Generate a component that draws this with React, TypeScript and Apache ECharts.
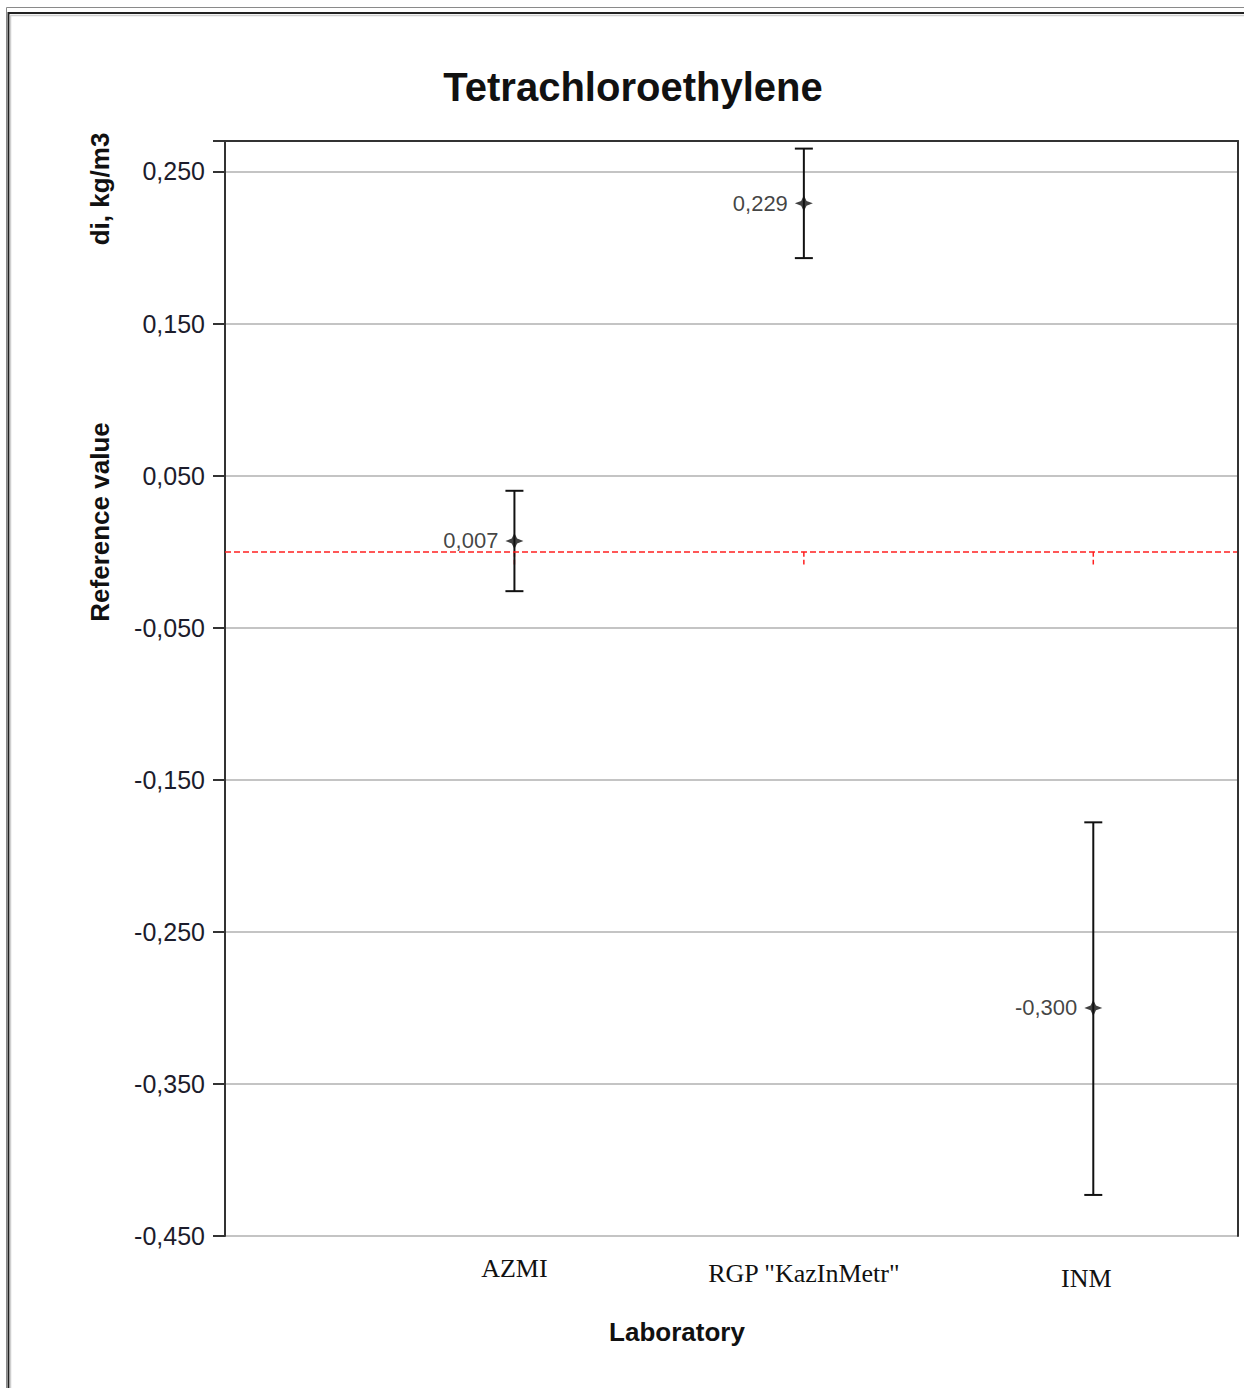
import React, { useEffect, useRef } from "react";
import * as echarts from "echarts";

// ---- data ----
const laboratories = ["AZMI", 'RGP "KazInMetr"', "INM"];
const labPositions = [1, 2, 3];
const diValues = [0.007, 0.229, -0.3];
const errLow = [-0.026, 0.193, -0.423];
const errHigh = [0.04, 0.265, -0.178];
const referenceValue = 0;
const referenceTickLow = [-0.0085, -0.0085, -0.0085];
const yMin = -0.45;
const yMax = 0.27;
const yStep = 0.1;
const xMin = 0;
const xMax = 3.5;

const SANS = "Liberation Sans, Arial, sans-serif";
const SERIF = "Liberation Serif, Times New Roman, serif";

const fmt = (v: number) => v.toFixed(3).replace(".", ",");

export default function App() {
  const ref = useRef<HTMLDivElement | null>(null);

  useEffect(() => {
    if (!ref.current) return;
    const chart = echarts.init(ref.current, undefined, { renderer: "svg" });

    const errData = labPositions.map((x, i) => [x, errLow[i], errHigh[i]]);
    const refTickData = labPositions.map((x, i) => [x, referenceValue, referenceTickLow[i]]);
    const pointData = labPositions.map((x, i) => [x, diValues[i]]);

    const option: any = {
      animation: false,
      backgroundColor: "#ffffff",
      title: {
        text: "Tetrachloroethylene",
        left: 628,
        top: 62,
        textAlign: "center",
        textStyle: { fontFamily: SANS, fontWeight: "bold", fontSize: 40, color: "#111" },
      },
      grid: { left: 225, right: 6, top: 141, bottom: 152, show: false },
      xAxis: [
        {
          type: "value",
          min: xMin,
          max: xMax,
          interval: 1,
          position: "bottom",
          axisLine: { show: false, onZero: false },
          axisTick: { show: false },
          splitLine: { show: false },
          axisLabel: {
            margin: 19,
            fontFamily: SERIF,
            fontSize: 26,
            color: "#111",
            formatter: (v: number) => {
              const i = labPositions.indexOf(v);
              return i < 0 ? "" : `{c${i}|${laboratories[i]}}`;
            },
            rich: {
              c0: { fontFamily: SERIF, fontSize: 26, color: "#111", lineHeight: 26 },
              c1: { fontFamily: SERIF, fontSize: 26, color: "#111", lineHeight: 36 },
              c2: { fontFamily: SERIF, fontSize: 26, color: "#111", lineHeight: 46, padding: [0, 14, 0, 0] },
            },
          },
        },
        {
          type: "value",
          min: xMin,
          max: xMax,
          position: "top",
          axisLine: { show: true, onZero: false, lineStyle: { color: "#333", width: 2 } },
          axisTick: { show: false },
          axisLabel: { show: false },
          splitLine: { show: false },
          z: 5,
        },
      ],
      yAxis: [
        {
          type: "value",
          min: yMin,
          max: yMax,
          interval: yStep,
          position: "left",
          axisLine: { show: true, onZero: false, lineStyle: { color: "#333", width: 2 } },
          axisTick: { show: true, length: 12, lineStyle: { color: "#333", width: 2 } },
          splitLine: { show: true, lineStyle: { color: "#c4c4c4", width: 2 } },
          axisLabel: {
            margin: 20,
            fontFamily: SANS,
            fontSize: 25,
            color: "#1c1c2c",
            formatter: (v: number) => (v > 0.26 ? "" : fmt(v)),
          },
        },
        {
          type: "value",
          min: yMin,
          max: yMax,
          position: "right",
          axisLine: { show: true, onZero: false, lineStyle: { color: "#333", width: 2 } },
          axisTick: { show: false },
          axisLabel: { show: false },
          splitLine: { show: false },
          z: 5,
        },
      ],
      graphic: [
        { type: "rect", silent: true, shape: { x: 6.5, y: 7.5, width: 1400, height: 1500 }, style: { fill: "none", stroke: "#8a8a8a", lineWidth: 1 } },
        { type: "rect", silent: true, shape: { x: 8.5, y: 13, width: 1400, height: 1500 }, style: { fill: "none", stroke: "#222", lineWidth: 2 } },
        { type: "rect", silent: true, shape: { x: 10.5, y: 15.5, width: 1400, height: 1500 }, style: { fill: "none", stroke: "#cfcfcf", lineWidth: 1.5 } },
        {
          type: "text",
          x: 100,
          y: 522,
          rotation: Math.PI / 2,
          style: { text: "Reference value", font: `bold 26px ${SANS}`, fill: "#111", textAlign: "center", textVerticalAlign: "middle" },
        },
        {
          type: "text",
          x: 100,
          y: 189,
          rotation: Math.PI / 2,
          style: { text: "di, kg/m3", font: `bold 26px ${SANS}`, fill: "#111", textAlign: "center", textVerticalAlign: "middle" },
        },
        {
          type: "text",
          x: 677,
          y: 1332,
          style: { text: "Laboratory", font: `bold 26px ${SANS}`, fill: "#111", textAlign: "center", textVerticalAlign: "middle" },
        },
      ],
      series: [
        {
          name: "reference ticks",
          type: "custom",
          xAxisIndex: 0,
          yAxisIndex: 0,
          z: 2,
          data: refTickData,
          renderItem: (params: any, api: any) => {
            const top = api.coord([api.value(0), api.value(1)]);
            const bot = api.coord([api.value(0), api.value(2)]);
            return {
              type: "line",
              shape: { x1: top[0], y1: top[1], x2: bot[0], y2: bot[1] },
              style: { stroke: "#ff2020", lineWidth: 1.5, lineDash: [5, 3] },
            };
          },
        },
        {
          name: "reference value",
          type: "line",
          xAxisIndex: 0,
          yAxisIndex: 0,
          z: 2,
          data: [],
          markLine: {
            silent: true,
            symbol: "none",
            label: { show: false },
            lineStyle: { color: "#ff2020", type: [6, 3], width: 1.6 },
            data: [{ yAxis: referenceValue }],
          },
        },
        {
          name: "uncertainty",
          type: "custom",
          xAxisIndex: 0,
          yAxisIndex: 0,
          z: 3,
          data: errData,
          renderItem: (params: any, api: any) => {
            const hi = api.coord([api.value(0), api.value(2)]);
            const lo = api.coord([api.value(0), api.value(1)]);
            const w = 9;
            const st = { stroke: "#111", lineWidth: 2 };
            return {
              type: "group",
              children: [
                { type: "line", shape: { x1: hi[0], y1: hi[1], x2: lo[0], y2: lo[1] }, style: st },
                { type: "line", shape: { x1: hi[0] - w, y1: hi[1], x2: hi[0] + w, y2: hi[1] }, style: st },
                { type: "line", shape: { x1: lo[0] - w, y1: lo[1], x2: lo[0] + w, y2: lo[1] }, style: st },
              ],
            };
          },
        },
        {
          name: "di",
          type: "scatter",
          xAxisIndex: 0,
          yAxisIndex: 0,
          z: 4,
          symbol: "path://M0,-10 L3,-3 L10,0 L3,3 L0,10 L-3,3 L-10,0 L-3,-3 Z",
          symbolSize: [18, 16],
          itemStyle: { color: "#111" },
          label: {
            show: true,
            position: "left",
            distance: 7,
            fontFamily: SANS,
            fontSize: 22,
            color: "#111",
            formatter: (p: any) => fmt(p.value[1]),
          },
          data: pointData,
        },
      ],
    };

    chart.setOption(option);
    return () => chart.dispose();
  }, []);

  return (
    <div
      ref={ref}
      style={{ position: "absolute", left: 0, top: 0, width: 1244, height: 1388, background: "#fff" }}
    />
  );
}
